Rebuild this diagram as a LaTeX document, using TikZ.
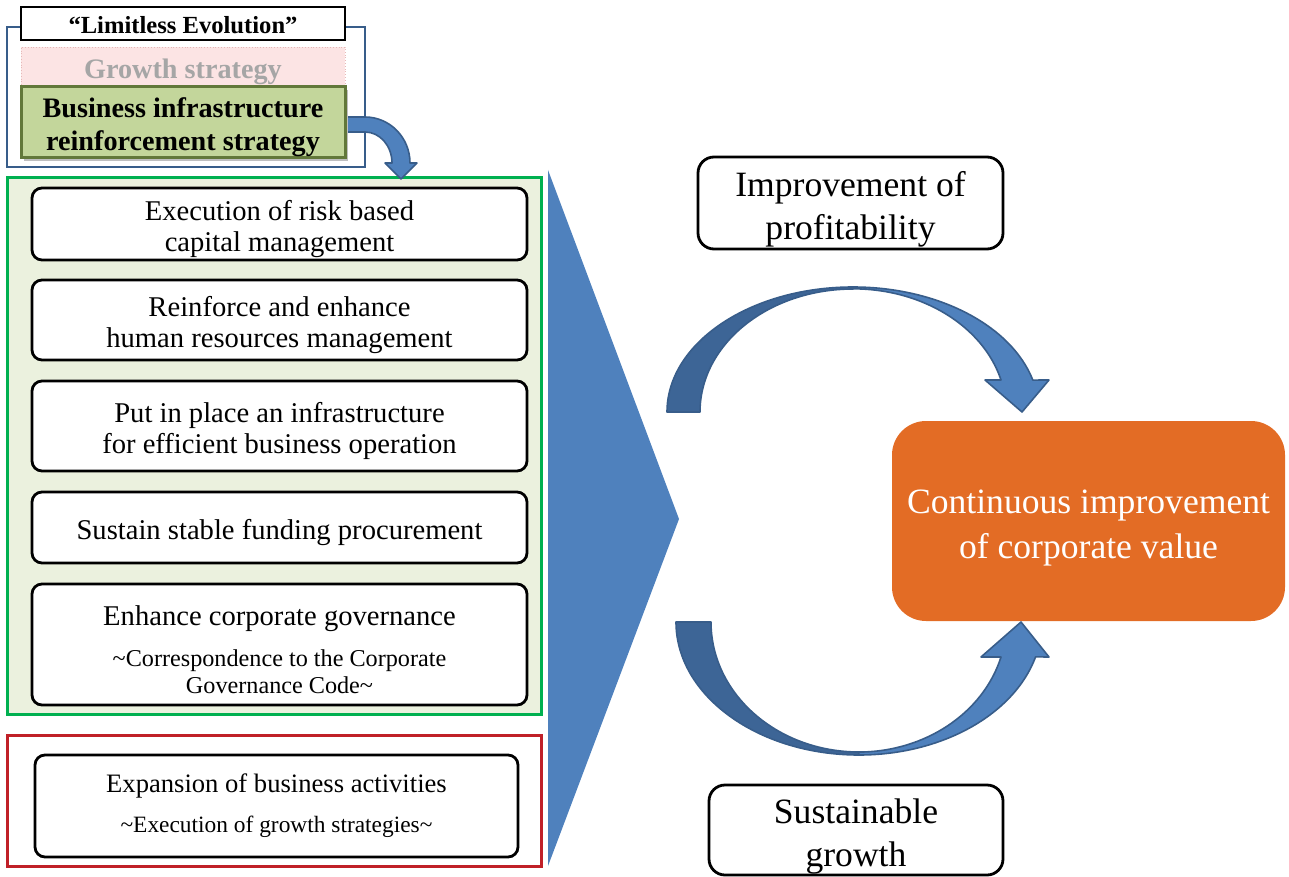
\documentclass[tikz,border=0pt]{standalone}
\usepackage{fontspec}
\setmainfont{Liberation Serif}
\usetikzlibrary{positioning}

\definecolor{frameblue}{RGB}{56,93,138}
\definecolor{arrowblue}{RGB}{79,129,189}
\definecolor{arrowdark}{RGB}{61,101,150}
\definecolor{arrowedge}{RGB}{56,93,138}
\definecolor{bandgreen}{RGB}{0,176,80}
\definecolor{bandfill}{RGB}{235,241,222}
\definecolor{bandred}{RGB}{192,32,40}
\definecolor{infrafill}{RGB}{195,214,155}
\definecolor{infraedge}{RGB}{98,120,58}
\definecolor{growthfill}{RGB}{252,228,228}
\definecolor{growthedge}{RGB}{230,185,184}
\definecolor{growthtext}{RGB}{166,166,166}
\definecolor{valueorange}{RGB}{227,108,37}

% type sizes
\newcommand{\itemfont}{\fontsize{14.3}{15.5}\selectfont}
\newcommand{\notefont}{\fontsize{12.1}{13.5}\selectfont}
\newcommand{\expfont}{\fontsize{13.3}{14.5}\selectfont}
\newcommand{\expnotefont}{\fontsize{11.7}{13}\selectfont}
\newcommand{\resultfont}{\fontsize{17.8}{21.5}\selectfont}
\newcommand{\mottofont}{\fontsize{12.3}{14}\selectfont\bfseries}
\newcommand{\stratfont}{\fontsize{14.1}{16.5}\selectfont\bfseries}
% taller first line, sets the text a little lower in its box
\newcommand{\up}{\rule{0pt}{1.05em}}

\begin{document}
\begin{tikzpicture}[x=0.5pt,y=-0.5pt,
  measure/.style={draw=black, line width=1.4pt, rounded corners=5pt, fill=white,
    inner sep=0pt, align=center, font=\itemfont, minimum width=247.5pt},
  result/.style={draw=black, line width=1.4pt, rounded corners=8pt, fill=white,
    inner sep=0pt, align=center, font=\resultfont},
  strategy/.style={minimum width=162pt, inner sep=0pt, align=center, font=\stratfont},
  blockarrow/.style={draw=arrowedge, line width=0.8pt, line join=round}]
\useasboundingbox (0,0) rectangle (1289,877);

% left column: frames
\draw[frameblue, line width=1pt] (7,27) rectangle (365,167);
\draw[bandgreen, fill=bandfill, line width=1.5pt] (7,178) rectangle (541,714);
\draw[bandred, line width=1.5pt] (7,735) rectangle (541,866);

% bent arrow into the green band
\path[blockarrow, fill=arrowblue] (340,117) -- (365,117)
  arc[start angle=270, end angle=360, x radius=45, y radius=46]
  -- (417,163) -- (401,179) -- (385,163) -- (392,163)
  arc[start angle=0, end angle=-90, x radius=27, y radius=31]
  -- (340,132) -- cycle;

\node[draw=black, fill=white, line width=0.6pt, minimum width=162pt,
  minimum height=16.5pt, inner sep=0pt, font=\mottofont] (motto) at (183,23.5)
  {\rule{0pt}{0.85em}“Limitless Evolution”};
\node[strategy, draw=growthedge, densely dotted, fill=growthfill, text=growthtext,
  minimum height=20pt] (growth) at (183,67) {\up Growth strategy};
% slight shadow under the current strategy
\fill[black!25] (24,90) rectangle (348,161);
\node[strategy, draw=infraedge, line width=1.5pt, fill=infrafill,
  minimum height=35.5pt] (base) at (183,122.5)
  {\up Business infrastructure\\reinforcement strategy};

% measures
\node[measure, minimum height=36pt] (risk) at (279.5,224)
  {\up Execution of risk based\\capital management};
\node[measure, minimum height=40pt] (human) at (279.5,320)
  {\up Reinforce and enhance\\human resources management};
\node[measure, minimum height=45pt] (operation) at (279.5,426)
  {\up Put in place an infrastructure\\for efficient business operation};
\node[measure, minimum height=35.5pt] (funding) at (279.5,527.5)
  {\up Sustain stable funding procurement};
\node[measure, minimum height=60.5pt, font=\notefont] (governance) at (279.5,644.5)
  {{\itemfont\up Enhance corporate governance}\\[7pt]
   \textasciitilde Correspondence to the Corporate\\Governance Code\textasciitilde};
\node[measure, minimum width=241.5pt, minimum height=51pt, font=\expnotefont]
  (expansion) at (276.5,806)
  {{\expfont Expansion of business activities}\\[7pt]
   \textasciitilde Execution of growth strategies\textasciitilde};

% big chevron
\fill[arrowblue] (548,170) -- (679,519) -- (548,866) -- cycle;

% right side
\node[result, minimum width=152.5pt, minimum height=46pt] (profit) at (850.5,203)
  {\up Improvement of\\profitability};
\node[result, minimum width=147pt, minimum height=45pt] (sustain) at (856,830)
  {\up Sustainable\\growth};
\node[fill=valueorange, rounded corners=17pt, minimum width=196.5pt,
  minimum height=100pt, inner sep=0pt, text=white, align=center,
  font=\fontsize{17.8}{22.5}\selectfont] (value) at (1088.5,521)
  {\up Continuous improvement\\of corporate value};

% upper curved arrow
\path[blockarrow, fill=arrowdark] (667,412)
  arc[start angle=180, end angle=270, x radius=186, y radius=125]
  -- (853,289)
  arc[start angle=270, end angle=180, x radius=153, y radius=123] -- cycle;
\path[blockarrow, fill=arrowblue] (853,287)
  arc[start angle=270, end angle=345.2, x radius=186, y radius=125]
  -- (1049,380) -- (1022,412) -- (985,380) -- (1001,380)
  arc[start angle=345, end angle=270, x radius=153, y radius=123] -- cycle;

% lower curved arrow
\path[blockarrow, fill=arrowdark] (676,622)
  arc[start angle=180, end angle=90, x radius=183, y radius=133]
  -- (859,752)
  arc[start angle=90, end angle=180, x radius=148, y radius=130] -- cycle;
\path[blockarrow, fill=arrowblue] (859,755)
  arc[start angle=90, end angle=15.2, x radius=183, y radius=133]
  -- (1049,657) -- (1021,622) -- (981,657) -- (1001,657)
  arc[start angle=15.6, end angle=90, x radius=148, y radius=130] -- cycle;
\end{tikzpicture}
\end{document}
